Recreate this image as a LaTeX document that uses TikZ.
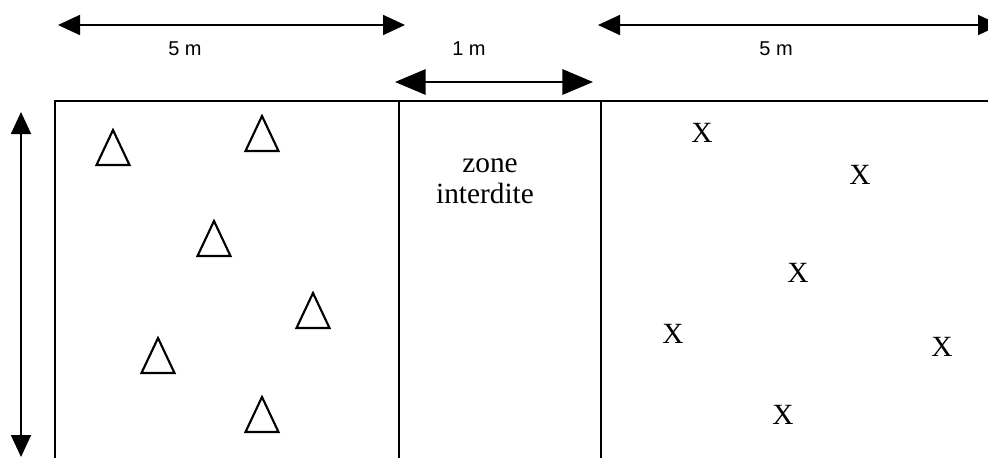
\documentclass[tikz,border=0pt]{standalone}
\usepackage{fontspec}
\setmainfont{Liberation Serif}
\newfontfamily\arialfont{Liberation Sans}
\usetikzlibrary{arrows.meta}
\tikzset{
  wall/.style={line width=1.7pt},
  dimarrow/.style={line width=1.3pt, {Triangle[length=16.5pt,width=15pt]}-{Triangle[length=16.5pt,width=15pt]}},
  bigarrow/.style={line width=1.6pt, {Triangle[length=23pt,width=19pt]}-{Triangle[length=23pt,width=19pt]}},
  dimlabel/.style={font=\arialfont\fontsize{15}{18}\selectfont, inner sep=0pt},
  xmark/.style={font=\fontsize{22}{26}\selectfont, inner sep=0pt},
  zonetext/.style={font=\fontsize{22}{26}\selectfont, inner sep=0pt, anchor=base},
  tri/.style={line width=1.6pt, line join=miter}
}
\begin{document}
\begin{tikzpicture}[x=0.75pt,y=-0.75pt]
\useasboundingbox (0,0) rectangle (988,457);
\clip (0,0) rectangle (988,457);
% walls
\coordinate (tl) at (55,101);
\coordinate (tr) at (995,101);
\coordinate (bl) at (55,462);
\coordinate (m1t) at (399,101);
\coordinate (m1b) at (399,462);
\coordinate (m2t) at (601,101);
\coordinate (m2b) at (601,462);
\draw[wall] (bl) -- (tl) -- (tr);
\draw[wall] (m1t) -- (m1b);
\draw[wall] (m2t) -- (m2b);
% dimension arrows
\coordinate (a1l) at (58,25);
\coordinate (a1r) at (405,25);
\coordinate (a2l) at (395,82);
\coordinate (a2r) at (593,82);
\coordinate (a3l) at (598,25);
\coordinate (a3r) at (1000,25);
\coordinate (vt) at (21,112);
\coordinate (vb) at (21,457);
\draw[dimarrow] (a1l) -- (a1r);
\draw[bigarrow] (a2l) -- (a2r);
\draw[dimarrow] (a3l) -- (a3r);
\draw[dimarrow] (vt) -- (vb);
\node[dimlabel] (l1) at (185,49) {5 m};
\node[dimlabel] (l2) at (469,49) {1 m};
\node[dimlabel] (l3) at (776,49) {5 m};
% zone text
\node[zonetext] (z1) at (490,172) {zone};
\node[zonetext] (z2) at (485,203) {interdite};
% triangles
\foreach \px/\py in {113/130, 262/116, 214/221, 313/293, 158/338, 262/397}{
  \draw[tri] (\px,\py) -- ++(-16.5,35) -- ++(33,0) -- cycle;
}
% X marks
\node[xmark] (x1) at (702,133) {X};
\node[xmark] (x2) at (860,175) {X};
\node[xmark] (x3) at (798,273) {X};
\node[xmark] (x4) at (673,334) {X};
\node[xmark] (x5) at (942,347) {X};
\node[xmark] (x6) at (783,415) {X};
\end{tikzpicture}
\end{document}
